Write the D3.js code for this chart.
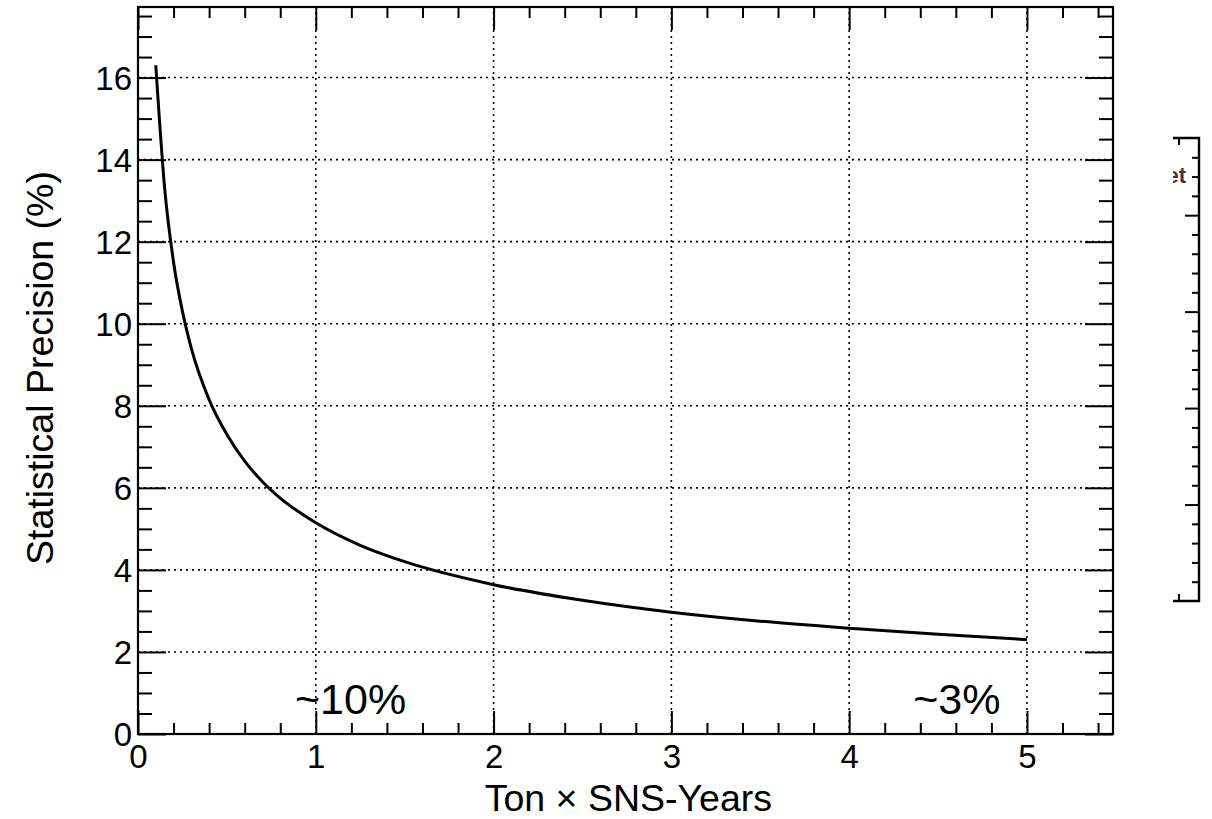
<!DOCTYPE html>
<html>
<head>
<meta charset="utf-8">
<script src="https://cdn.jsdelivr.net/npm/d3@7"></script>
<style>
  html, body { margin: 0; padding: 0; background: #fff; }
  svg { display: block; font-family: "Liberation Sans", Arial, Helvetica, sans-serif; }
</style>
</head>
<body>
<script>
// exposure values (Ton x SNS-Years) and precision
var exposure  = [0.10, 0.15, 0.20, 0.25, 0.30, 0.40, 0.50, 0.60, 0.70, 0.80, 1.00, 1.25, 1.50, 2.00, 2.50, 3.00, 3.50, 4.00, 4.50, 5.00];
var precision = [16.3, 13.3, 11.5, 10.3, 9.40, 8.15, 7.30, 6.65, 6.15, 5.75, 5.15, 4.60, 4.20, 3.64, 3.26, 2.97, 2.75, 2.58, 2.43, 2.30];

var xTicks = [0, 1, 2, 3, 4, 5];
var yTicks = [0, 2, 4, 6, 8, 10, 12, 14, 16];
var xGrid = [1, 2, 3, 4, 5];
var yGrid = [2, 4, 6, 8, 10, 12, 14, 16];

var notes  = ["~10%", "~3%"];
var noteAt = [0.883, 4.36];

var W = 1212, H = 819;
var svg, x, y;

init();
drawAxes();
drawCurve();
drawSidePad();

function init () {
    svg = d3.select("body").append("svg").attr("width", W).attr("height", H);
    x = d3.scaleLinear().domain([0, 5.484]).range([138, 1113]);
    y = d3.scaleLinear().domain([0, 17.72]).range([734, 7]);
}

function drawAxes () {
    var xMinor = d3.range(0, 5.5, 0.2).filter(function (v) { return Math.abs(v - Math.round(v)) > 1e-6; });
    var yMinor = d3.range(0, 17.6, 0.5).filter(function (v) { return Math.abs(v / 2 - Math.round(v / 2)) > 1e-6; });

    // dotted grid
    var grid = svg.append("g").attr("stroke", "#000").attr("stroke-width", 1.6).attr("stroke-dasharray", "2,4");
    grid.selectAll(".gx").data(xGrid).enter().append("line")
        .attr("x1", function (d) { return x(d); }).attr("x2", function (d) { return x(d); })
        .attr("y1", y.range()[0]).attr("y2", y.range()[1]);
    grid.selectAll(".gy").data(yGrid).enter().append("line")
        .attr("y1", function (d) { return y(d); }).attr("y2", function (d) { return y(d); })
        .attr("x1", x.range()[0]).attr("x2", x.range()[1]);

    function ax (gen, tx, ty) {
        var g = svg.append("g").attr("transform", "translate(" + tx + "," + ty + ")").call(gen);
        g.select(".domain").remove();
        g.selectAll("line").attr("stroke", "#000").attr("stroke-width", 2);
        return g;
    }

    var bottom = ax(d3.axisBottom(x).tickValues(xTicks).tickSize(-23).tickSizeOuter(0).tickPadding(11).tickFormat(d3.format("d")), 0, 734);
    ax(d3.axisBottom(x).tickValues(xMinor).tickSize(-11).tickFormat(""), 0, 734);
    ax(d3.axisTop(x).tickValues(xTicks).tickSize(-23).tickFormat(""), 0, 7);
    ax(d3.axisTop(x).tickValues(xMinor).tickSize(-11).tickFormat(""), 0, 7);

    var left = ax(d3.axisLeft(y).tickValues(yTicks).tickSize(-28).tickSizeOuter(0).tickPadding(6).tickFormat(d3.format("d")), 138, 0);
    ax(d3.axisLeft(y).tickValues(yMinor).tickSize(-14).tickFormat(""), 138, 0);
    ax(d3.axisRight(y).tickValues(yTicks).tickSize(-28).tickFormat(""), 1113, 0);
    ax(d3.axisRight(y).tickValues(yMinor).tickSize(-14).tickFormat(""), 1113, 0);

    bottom.selectAll("text").attr("font-size", 33).attr("fill", "#000").attr("font-family", null);
    left.selectAll("text").attr("font-size", 33).attr("fill", "#000").attr("font-family", null).attr("dy", "0.36em");

    // frame
    svg.append("rect")
        .attr("x", 138).attr("y", 7).attr("width", 1113 - 138).attr("height", 734 - 7)
        .attr("fill", "none").attr("stroke", "#000").attr("stroke-width", 2.2);

    svg.append("text")
        .attr("x", 772).attr("y", 811).attr("text-anchor", "end")
        .attr("font-size", 37.5).text("Ton \u00d7 SNS-Years");

    svg.append("text")
        .attr("transform", "translate(53,368) rotate(-90)").attr("text-anchor", "middle")
        .attr("font-size", 37.5).text("Statistical Precision (%)");

    svg.selectAll(".note").data(notes).enter().append("text")
        .attr("x", function (d, i) { return x(noteAt[i]); }).attr("y", 714)
        .attr("font-size", 43).text(function (d) { return d; });
}

function drawCurve () {
    var line = d3.line()
        .x(function (d) { return x(d); })
        .y(function (d, i) { return y(precision[i]); })
        .curve(d3.curveMonotoneX);

    svg.append("path").datum(exposure)
        .attr("d", line).attr("fill", "none")
        .attr("stroke", "#000").attr("stroke-width", 3);
}

// cut-off second pad on the right edge of the picture
function drawSidePad () {
    var s = d3.scaleLinear().domain([0, 24]).range([601, 138]);
    var g = svg.append("g");

    var clip = svg.append("clipPath").attr("id", "padclip");
    clip.append("rect").attr("x", 1173).attr("y", 120).attr("width", 40).attr("height", 500);
    g.append("text").attr("clip-path", "url(#padclip)")
        .attr("x", 1186).attr("y", 183).attr("text-anchor", "end")
        .attr("font-size", 22).attr("font-weight", "bold").attr("fill", "#3a3a3a").text("Target");

    var major = [5, 10, 15, 20];
    var minor = d3.range(1, 24).filter(function (v) { return v % 5 !== 0; });
    [[major, 14], [minor, 7]].forEach(function (p) {
        var a = g.append("g").attr("transform", "translate(1199,0)")
            .call(d3.axisLeft(s).tickValues(p[0]).tickSize(p[1]).tickFormat(""));
        a.select(".domain").remove();
        a.selectAll("line").attr("stroke", "#000").attr("stroke-width", 2);
    });

    g.append("path")
        .attr("d", "M1173," + s(24) + "H1199V" + s(0) + "H1173")
        .attr("fill", "none").attr("stroke", "#000").attr("stroke-width", 2.4);
    g.append("path")
        .attr("d", "M1179," + s(24) + "v7M1179," + s(0) + "v-7")
        .attr("fill", "none").attr("stroke", "#000").attr("stroke-width", 2);
}
</script>
</body>
</html>
